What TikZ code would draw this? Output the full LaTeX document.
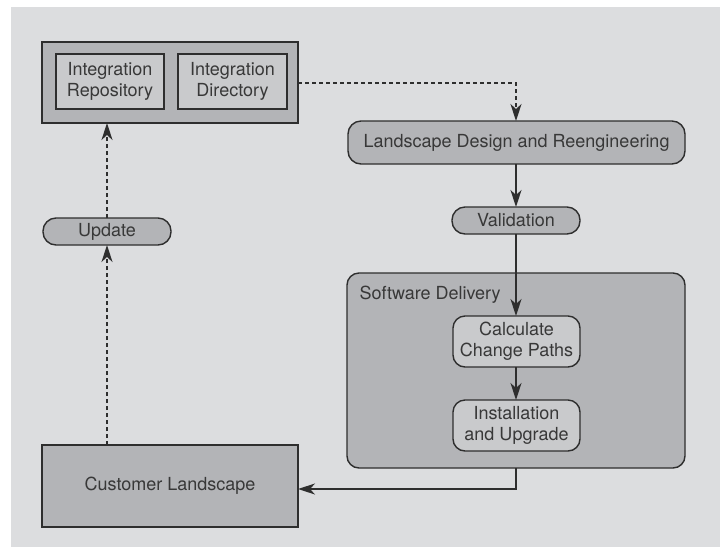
\documentclass[tikz,border=0pt]{standalone}
\usepackage{fontspec}
\setmainfont{TeX Gyre Heros}
\usetikzlibrary{arrows.meta}
\definecolor{pagegray}{HTML}{DCDDDF}
\definecolor{boxgray}{HTML}{B3B4B7}
\definecolor{innergray}{HTML}{C9CACC}
\definecolor{inkgray}{HTML}{2E2E2E}
\definecolor{textgray}{HTML}{383838}
\tikzset{
  every node/.style={font=\fontsize{18}{21}\selectfont, text=textgray},
  plainbox/.style={draw=inkgray, line width=1.4pt, fill=boxgray},
  innerbox/.style={draw=inkgray, line width=1.4pt, fill=innergray},
  pill/.style={draw=inkgray, line width=1.4pt, fill=boxgray, rounded corners=13pt},
  roundbox/.style={draw=inkgray, line width=1.4pt, rounded corners=12pt},
  flow/.style={draw=inkgray, line width=1.4pt, -{Stealth[length=17pt,width=11pt,inset=5pt]}},
  flowdash/.style={flow, dash pattern=on 4pt off 3pt},
  flowline/.style={draw=inkgray, line width=1.4pt}
}
\begin{document}
\begin{tikzpicture}[x=1pt,y=-1pt]
\useasboundingbox (0,0) rectangle (720,547);
\fill[pagegray] (11,7) rectangle (720,547);

% integration builder
\draw[plainbox] (42,42) rectangle (298,123);
\coordinate (ib-s) at (107,123);
\coordinate (ib-e) at (298,83);
\draw[innerbox] (56,54) rectangle (164,109);
\node[align=center] (repo) at (110,81.5) {Integration\\Repository};
\draw[innerbox] (178,54) rectangle (287,109);
\node[align=center] (dir) at (232.5,81.5) {Integration\\Directory};

% landscape design
\draw[pill] (348,121) rectangle (685,164);
\node (design) at (516.5,142.5) {Landscape Design and Reengineering};
\coordinate (design-n) at (516,121);
\coordinate (design-s) at (516,164);

% validation
\draw[pill] (452,207) rectangle (580,234);
\node (valid) at (516,220.5) {Validation};
\coordinate (valid-n) at (516,207);
\coordinate (valid-s) at (516,234);

% software delivery
\draw[roundbox, fill=boxgray] (347,273) rectangle (685,468);
\node[anchor=west] (sdlabel) at (356,295) {Software Delivery};
\coordinate (sd-s) at (516,468);

\draw[roundbox, fill=innergray] (453,316) rectangle (580,367);
\node[align=center] (calc) at (516.5,341.5) {Calculate\\Change Paths};
\coordinate (calc-n) at (516,316);
\coordinate (calc-s) at (516,367);

\draw[roundbox, fill=innergray] (453,400) rectangle (580,451);
\node[align=center] (inst) at (516.5,425.5) {Installation\\and Upgrade};
\coordinate (inst-n) at (516,400);

% customer landscape
\draw[plainbox] (42,445) rectangle (298,527);
\node (cust) at (170,486) {Customer Landscape};
\coordinate (cust-n) at (107,445);
\coordinate (cust-e) at (298,489);

% update
\draw[pill] (43,218) rectangle (171,245);
\node (upd) at (107,231.5) {Update};
\coordinate (upd-n) at (107,218);
\coordinate (upd-s) at (107,245);

% connectors
\draw[flowdash] (ib-e) -| (design-n);
\draw[flow] (design-s) -- (valid-n);
\draw[flow] (valid-s) -- (calc-n);
\draw[flow] (calc-s) -- (inst-n);
\draw[flow] (sd-s) |- (cust-e);
\draw[flowdash] (cust-n) -- (upd-s);
\draw[flowdash] (upd-n) -- (ib-s);
\end{tikzpicture}
\end{document}
